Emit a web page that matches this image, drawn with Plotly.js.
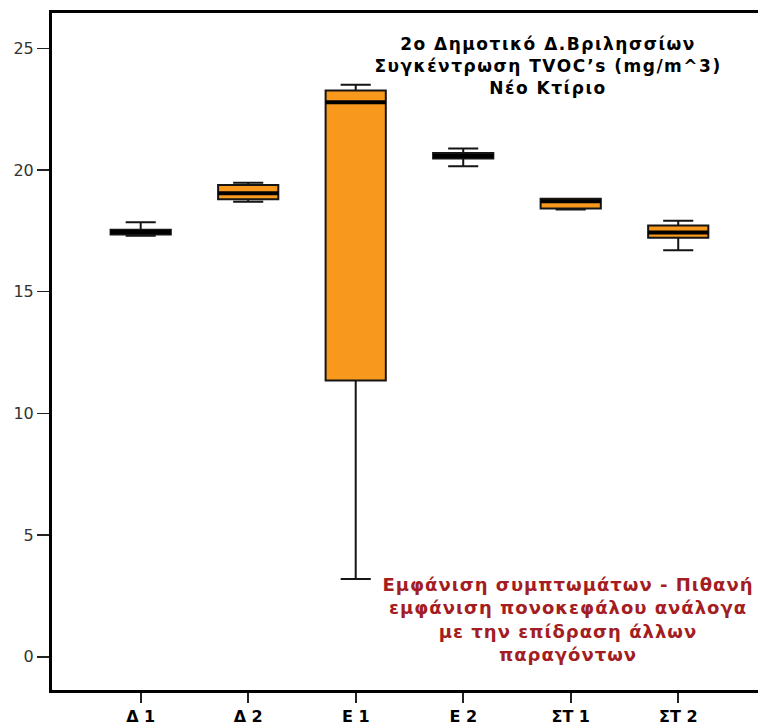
<!DOCTYPE html>
<html>
<head>
<meta charset="utf-8">
<script src="https://cdn.plot.ly/plotly-3.0.1.min.js"></script>
<style>
  html, body { margin: 0; padding: 0; background: #ffffff; overflow: hidden; }
  #chart { width: 758px; height: 726px; }
  /* slightly wider tracking for the bold captions */
  #chart .gtitle { letter-spacing: 1.5px; }
  #chart .annotation-text { letter-spacing: 1px; }
</style>
</head>
<body>
<div id="chart"></div>
<script>
// Classroom groups (x-axis tick labels)
var categories = ['Δ 1', 'Δ 2', 'Ε 1', 'Ε 2', 'ΣΤ 1', 'ΣΤ 2'];

// TVOC box-plot statistics per classroom (mg/m^3)
var lowerWhisker = [17.30, 18.70, 3.20, 20.15, 18.38, 16.70];
var q1Values     = [17.35, 18.80, 11.35, 20.47, 18.42, 17.22];
var medianValues = [17.45, 19.05, 22.78, 20.58, 18.72, 17.43];
var q3Values     = [17.55, 19.38, 23.27, 20.70, 18.82, 17.72];
var upperWhisker = [17.85, 19.48, 23.50, 20.88, 18.82, 17.92];

var positions = categories.map(function (_, i) { return i; });
var boxWidth = 0.56;
var boldFont = 'DejaVu Sans, Liberation Sans, Arial, sans-serif';

var boxTrace = {
  type: 'box',
  x: positions,
  q1: q1Values,
  median: medianValues,
  q3: q3Values,
  lowerfence: lowerWhisker,
  upperfence: upperWhisker,
  width: boxWidth,
  whiskerwidth: 0.5,
  fillcolor: '#F8991E',
  line: { color: '#151515', width: 2 },
  hoverinfo: 'skip',
  showlegend: false
};

// Heavier median bars drawn over each box
var medX = [], medY = [];
positions.forEach(function (p, i) {
  medX.push(p - boxWidth / 2, p + boxWidth / 2, null);
  medY.push(medianValues[i], medianValues[i], null);
});
var medianTrace = {
  type: 'scatter',
  mode: 'lines',
  x: medX,
  y: medY,
  line: { color: '#000000', width: 4 },
  hoverinfo: 'skip',
  showlegend: false
};

var layout = {
  width: 758,
  height: 726,
  margin: { l: 52, r: 0, t: 13, b: 36 },
  paper_bgcolor: '#ffffff',
  plot_bgcolor: '#ffffff',
  font: { family: boldFont, color: '#000000' },
  title: {
    text: '2ο Δημοτικό Δ.Βριλησσίων<br>Συγκέντρωση TVOC’s (mg/m^3)<br>Νέο Κτίριο',
    font: { family: boldFont, size: 17, color: '#000000', weight: 'bold' },
    x: 0.723,
    xanchor: 'center',
    xref: 'container',
    y: 0.931,
    yanchor: 'top',
    yref: 'container'
  },
  xaxis: {
    range: [-0.825, 5.742],
    tickmode: 'array',
    tickvals: positions,
    ticktext: categories,
    showgrid: false,
    zeroline: false,
    showline: true,
    linecolor: '#000000',
    linewidth: 3,
    mirror: true,
    ticks: 'outside',
    ticklen: 10,
    tickwidth: 2,
    tickcolor: '#222222',
    tickfont: { family: boldFont, size: 16, color: '#000000', weight: 'bold' },
    fixedrange: true
  },
  yaxis: {
    range: [-1.36, 26.45],
    tickvals: [0, 5, 10, 15, 20, 25],
    showgrid: false,
    zeroline: false,
    showline: true,
    linecolor: '#000000',
    linewidth: 3,
    ticks: 'outside',
    ticklen: 12,
    tickwidth: 1.5,
    tickcolor: '#222222',
    tickfont: { family: boldFont, size: 16, color: '#333333' },
    fixedrange: true
  },
  annotations: [{
    xref: 'x',
    yref: 'y',
    x: 3.975,
    y: 3.5,
    xanchor: 'center',
    yanchor: 'top',
    showarrow: false,
    align: 'center',
    text: 'Εμφάνιση συμπτωμάτων - Πιθανή<br>εμφάνιση πονοκεφάλου ανάλογα<br>με την επίδραση άλλων<br>παραγόντων',
    font: { family: boldFont, size: 18, color: '#A31D22', weight: 'bold' }
  }]
};

Plotly.newPlot('chart', [boxTrace, medianTrace], layout, { displayModeBar: false, staticPlot: true });
</script>
</body>
</html>
